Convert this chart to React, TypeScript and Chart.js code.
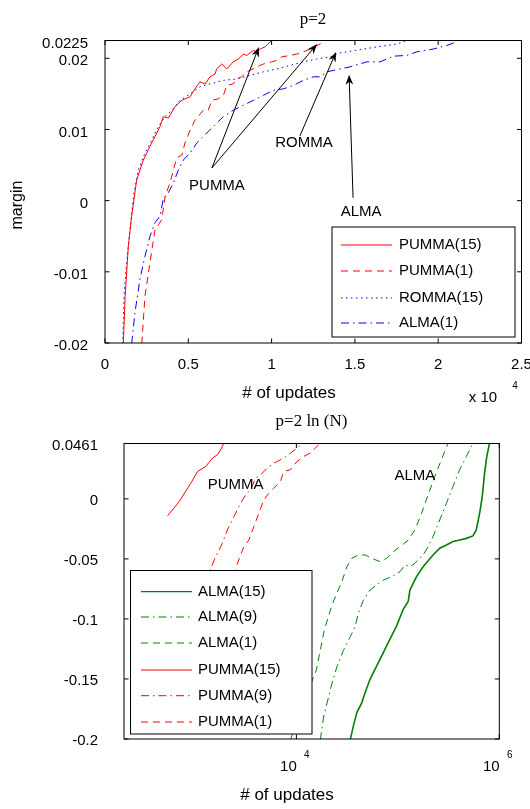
import React, { useEffect, useRef } from 'react';
import { Chart, registerables } from 'chart.js';

Chart.register(...registerables);

// ---------------- Top chart (p=2) ----------------
const topTitle = 'p=2';
const topXTicks = [0, 0.5, 1, 1.5, 2, 2.5];
const topXLabels = ['0', '0.5', '1', '1.5', '2', '2.5'];
const topYTicks = [0.0225, 0.02, 0.01, 0, -0.01, -0.02];
const topYLabels = ['0.0225', '0.02', '0.01', '0', '-0.01', '-0.02'];

const pumma15X = [0.110, 0.121, 0.140, 0.160, 0.190, 0.230, 0.280, 0.330, 0.350, 0.380, 0.420, 0.461, 0.511, 0.540, 0.570, 0.601, 0.630, 0.661, 0.670, 0.701, 0.731, 0.770, 0.801, 0.830, 0.851, 0.891, 0.910, 0.931, 0.960, 0.991, 1.006];
const pumma15Y = [-0.0201, -0.0134, -0.0064, -0.0022, 0.0029, 0.0057, 0.0081, 0.0104, 0.0118, 0.0116, 0.0132, 0.0141, 0.0146, 0.0157, 0.0167, 0.0164, 0.0174, 0.0178, 0.0185, 0.0192, 0.0185, 0.0195, 0.0199, 0.0206, 0.0204, 0.0211, 0.0209, 0.0213, 0.0216, 0.0223, 0.0226];

const pumma1X = [0.221, 0.240, 0.270, 0.300, 0.340, 0.361, 0.390, 0.430, 0.461, 0.480, 0.511, 0.540, 0.590, 0.620, 0.641, 0.680, 0.711, 0.731, 0.770, 0.791, 0.820, 0.851, 0.870, 0.910, 0.951, 1.001, 1.031, 1.061, 1.111, 1.152, 1.191, 1.231, 1.291, 1.311];
const pumma1Y = [-0.0201, -0.0134, -0.0087, -0.0041, -0.0027, 0.0006, 0.0025, 0.0060, 0.0064, 0.0081, 0.0099, 0.0113, 0.0127, 0.0127, 0.0141, 0.0143, 0.0148, 0.0162, 0.0164, 0.0171, 0.0174, 0.0181, 0.0183, 0.0188, 0.0192, 0.0195, 0.0197, 0.0202, 0.0204, 0.0206, 0.0209, 0.0213, 0.0220, 0.0224];

const romma15X = [0.106, 0.114, 0.130, 0.150, 0.171, 0.200, 0.240, 0.280, 0.320, 0.361, 0.401, 0.451, 0.511, 0.570, 0.630, 0.711, 0.791, 0.870, 0.951, 1.031, 1.111, 1.191, 1.271, 1.351, 1.401, 1.501, 1.632, 1.751, 1.801];
const romma15Y = [-0.0201, -0.0134, -0.0087, -0.0041, 0.0006, 0.0043, 0.0067, 0.0085, 0.0104, 0.0118, 0.0127, 0.0141, 0.0150, 0.0160, 0.0164, 0.0169, 0.0171, 0.0176, 0.0181, 0.0185, 0.0190, 0.0195, 0.0199, 0.0202, 0.0207, 0.0211, 0.0216, 0.0220, 0.0224];

const alma1X = [0.160, 0.180, 0.210, 0.240, 0.270, 0.300, 0.330, 0.350, 0.380, 0.411, 0.440, 0.470, 0.511, 0.551, 0.611, 0.670, 0.711, 0.770, 0.830, 0.891, 0.951, 1.010, 1.070, 1.131, 1.191, 1.250, 1.291, 1.331, 1.371, 1.471, 1.571, 1.651, 1.732, 1.811, 1.871, 1.971, 2.051, 2.112];
const alma1Y = [-0.0201, -0.0157, -0.0110, -0.0078, -0.0050, -0.0031, -0.0022, 0.0003, 0.0011, 0.0025, 0.0043, 0.0057, 0.0067, 0.0081, 0.0095, 0.0109, 0.0118, 0.0127, 0.0134, 0.0141, 0.0148, 0.0155, 0.0157, 0.0162, 0.0169, 0.0174, 0.0174, 0.0181, 0.0183, 0.0188, 0.0195, 0.0195, 0.0203, 0.0204, 0.0209, 0.0213, 0.0218, 0.0223];

// annotations (data coordinates)
const topLabels = [
  { text: 'PUMMA', x: 0.672, y: 0.0021 },
  { text: 'ROMMA', x: 1.194, y: 0.0081 },
  { text: 'ALMA', x: 1.537, y: -0.0016 },
];
const topArrows = [
  { x0: 0.642, y0: 0.0046, x1: 0.924, y1: 0.0216 },
  { x0: 0.642, y0: 0.0046, x1: 1.273, y1: 0.0220 },
  { x0: 1.170, y0: 0.0091, x1: 1.387, y1: 0.0209 },
  { x0: 1.489, y0: 0.0004, x1: 1.465, y1: 0.0177 },
];

// ---------------- Bottom chart (p=2 ln(N)) ----------------
const botTitle = 'p=2 ln (N)';
const botXTicks = [1e4, 1e6];
const botXExp = ['4', '6'];
const botYTicks = [0.0461, 0, -0.05, -0.1, -0.15, -0.2];
const botYLabels = ['0.0461', '0', '-0.05', '-0.1', '-0.15', '-0.2'];

const balma15X = [33880, 36480, 39450, 44160, 47530, 53210, 61940, 71940, 83560, 97280, 113000, 126500, 131500, 152800, 177400, 222300, 258800, 301300, 349900, 406400, 473200, 549500, 592900, 639700, 679200, 716100, 753400, 801700];
const balma15Y = [-0.201, -0.1891, -0.1780, -0.1697, -0.1614, -0.1503, -0.1391, -0.1280, -0.1169, -0.1058, -0.0920, -0.0855, -0.0760, -0.0648, -0.0565, -0.0467, -0.0411, -0.0384, -0.0356, -0.0342, -0.0329, -0.0309, -0.0259, -0.0120, 0.0019, 0.0214, 0.0353, 0.0465];

const balma9X = [17210, 18530, 20750, 22390, 25060, 29110, 33880, 37930, 40870, 45710, 53210, 61940, 71940, 86900, 105000, 117500, 131500, 147200, 177400, 198700, 222300, 258800, 301300, 349900, 406400, 473200, 549500];
const balma9Y = [-0.201, -0.1817, -0.1650, -0.1539, -0.1400, -0.1261, -0.1150, -0.1066, -0.0950, -0.0845, -0.0760, -0.0718, -0.0676, -0.0649, -0.0607, -0.0551, -0.0565, -0.0537, -0.0467, -0.0398, -0.0315, -0.0175, -0.0036, 0.0103, 0.0242, 0.0353, 0.0465];

const balma1X = [8730, 10940, 15710, 17210, 18820, 22390, 25060, 28060, 31470, 35230, 40870, 47530, 55340, 66680, 77620, 90160, 105000, 126500, 147200, 171400, 198700, 231200, 269100, 312600];
const balma1Y = [-0.201, -0.176, -0.1428, -0.1261, -0.1094, -0.0885, -0.0787, -0.0690, -0.0565, -0.0495, -0.0467, -0.0467, -0.0495, -0.0523, -0.0495, -0.0441, -0.0399, -0.0344, -0.0260, -0.0120, 0.0033, 0.0186, 0.0326, 0.0465];

const bpumma15X = [538, 700, 912, 1062, 1279, 1489, 1667, 1795, 1935];
const bpumma15Y = [-0.0142, -0.0023, 0.0131, 0.0228, 0.0270, 0.0340, 0.0367, 0.0409, 0.0465];

const bpumma9X = [1279, 1432, 1603, 1866, 2089, 2427, 2818, 3162, 3540, 3963, 4436, 5157, 5984, 7499, 8730, 10160, 11370];
const bpumma9Y = [-0.0843, -0.0578, -0.0482, -0.0370, -0.0259, -0.0148, -0.0036, 0.0033, 0.0075, 0.0172, 0.0200, 0.0256, 0.0297, 0.0339, 0.0381, 0.0423, 0.0465];

const bpumma1X = [2249, 2559, 2818, 3041, 3404, 3811, 4266, 4775, 5346, 5984, 6966, 7499, 8730, 10160, 11800, 13720, 15360, 17210];
const bpumma1Y = [-0.0843, -0.0565, -0.0467, -0.0398, -0.0342, -0.0231, -0.0119, -0.0008, 0.0047, 0.0089, 0.0145, 0.0228, 0.0242, 0.0311, 0.0353, 0.0381, 0.0423, 0.0465];

const botLabels = [
  { text: 'PUMMA', x: 2518, y: 0.0117 },
  { text: 'ALMA', x: 147200, y: 0.0195 },
];

// ---------------- helpers ----------------
const SANS = '"Liberation Sans", Arial, sans-serif';
const SERIF = '"Liberation Serif", "Times New Roman", serif';
const RED = 'rgb(255,0,0)';
const BLUE = 'rgb(0,0,255)';
const GREEN = 'rgb(0,128,0)';
const DASH = [7, 5];
const DASHDOT = [8, 4, 1.5, 4];
const DOT = [1.5, 3.5];

const pts = (xs: number[], ys: number[]) => xs.map((x, i) => ({ x, y: ys[i] }));
const pick = (vals: number[], labels: string[]) => (v: any) => {
  const i = vals.findIndex((t) => Math.abs(t - Number(v)) < 1e-9 * Math.max(1, Math.abs(t)));
  return i >= 0 ? labels[i] : '';
};

function ds(label: string, data: any[], color: string, dash: number[], width = 1) {
  return {
    label,
    data,
    borderColor: color,
    backgroundColor: color,
    borderWidth: width,
    borderDash: dash,
    pointRadius: 0,
    tension: 0,
    fill: false,
  };
}

type TextItem = { text: string; x: number; y: number; font: string; align?: CanvasTextAlign; rotate?: boolean };

function framePlugin(cfg: any) {
  return {
    id: 'frame_' + cfg.name,
    afterDraw(chart: any) {
      const { ctx, chartArea: a, scales } = chart;
      const xs = scales.x;
      const ys = scales.y;
      ctx.save();
      // box
      ctx.strokeStyle = '#000';
      ctx.lineWidth = 1;
      ctx.setLineDash([]);
      ctx.strokeRect(a.left, a.top, a.right - a.left, a.bottom - a.top);
      // inner ticks
      const tl = 4.5;
      ctx.beginPath();
      cfg.xTicks.forEach((v: number) => {
        const p = xs.getPixelForValue(v);
        ctx.moveTo(p, a.bottom);
        ctx.lineTo(p, a.bottom - tl);
        ctx.moveTo(p, a.top);
        ctx.lineTo(p, a.top + tl);
      });
      cfg.yTicks.forEach((v: number) => {
        const p = ys.getPixelForValue(v);
        ctx.moveTo(a.left, p);
        ctx.lineTo(a.left + tl, p);
        ctx.moveTo(a.right, p);
        ctx.lineTo(a.right - tl, p);
      });
      ctx.stroke();

      // arrows
      (cfg.arrows || []).forEach((ar: any) => {
        const x0 = xs.getPixelForValue(ar.x0);
        const y0 = ys.getPixelForValue(ar.y0);
        const x1 = xs.getPixelForValue(ar.x1);
        const y1 = ys.getPixelForValue(ar.y1);
        const ang = Math.atan2(y1 - y0, x1 - x0);
        const L = 10;
        const W = 3.8;
        ctx.strokeStyle = '#000';
        ctx.lineWidth = 1;
        ctx.beginPath();
        ctx.moveTo(x0, y0);
        ctx.lineTo(x1 - Math.cos(ang) * L * 0.7, y1 - Math.sin(ang) * L * 0.7);
        ctx.stroke();
        const bx = x1 - Math.cos(ang) * L;
        const by = y1 - Math.sin(ang) * L;
        const nx = -Math.sin(ang);
        const ny = Math.cos(ang);
        const mx = x1 - Math.cos(ang) * L * 0.7;
        const my = y1 - Math.sin(ang) * L * 0.7;
        ctx.fillStyle = '#000';
        ctx.beginPath();
        ctx.moveTo(x1, y1);
        ctx.lineTo(bx + nx * W, by + ny * W);
        ctx.lineTo(mx, my);
        ctx.lineTo(bx - nx * W, by - ny * W);
        ctx.closePath();
        ctx.fill();
      });

      // annotation labels (data coords)
      ctx.fillStyle = '#000';
      ctx.textBaseline = 'middle';
      ctx.textAlign = 'center';
      ctx.font = '15px ' + SANS;
      (cfg.labels || []).forEach((t: any) => {
        ctx.fillText(t.text, xs.getPixelForValue(t.x), ys.getPixelForValue(t.y));
      });

      // legend
      const Lg = cfg.legend;
      ctx.fillStyle = '#fff';
      ctx.fillRect(Lg.x0, Lg.y0, Lg.x1 - Lg.x0, Lg.y1 - Lg.y0);
      ctx.strokeStyle = '#000';
      ctx.lineWidth = 1;
      ctx.strokeRect(Lg.x0, Lg.y0, Lg.x1 - Lg.x0, Lg.y1 - Lg.y0);
      Lg.order.forEach((di: number, i: number) => {
        const d = chart.data.datasets[di];
        const y = Lg.rows[i];
        ctx.save();
        ctx.strokeStyle = d.borderColor;
        ctx.lineWidth = Math.min(d.borderWidth, 1.2);
        ctx.setLineDash(d.borderDash || []);
        ctx.beginPath();
        ctx.moveTo(Lg.sx0, y);
        ctx.lineTo(Lg.sx1, y);
        ctx.stroke();
        ctx.restore();
        ctx.fillStyle = '#000';
        ctx.textAlign = 'left';
        ctx.textBaseline = 'middle';
        ctx.font = '15px ' + SANS;
        ctx.fillText(d.label, Lg.tx, y);
      });

      // superscripts on tick labels
      (cfg.sup || []).forEach((s: any) => {
        ctx.fillStyle = '#000';
        ctx.textAlign = 'center';
        ctx.textBaseline = 'middle';
        ctx.font = '10px ' + SANS;
        ctx.fillText(s.text, xs.getPixelForValue(s.v) + s.dx, a.bottom + s.dy);
      });

      // free texts (pixel coords)
      (cfg.texts || []).forEach((t: TextItem) => {
        ctx.save();
        ctx.fillStyle = '#000';
        ctx.font = t.font;
        ctx.textAlign = t.align || 'center';
        ctx.textBaseline = 'middle';
        if (t.rotate) {
          ctx.translate(t.x, t.y);
          ctx.rotate(-Math.PI / 2);
          ctx.fillText(t.text, 0, 0);
        } else {
          ctx.fillText(t.text, t.x, t.y);
        }
        ctx.restore();
      });
      ctx.restore();
    },
  };
}

function topConfig(): any {
  return {
    type: 'line',
    data: {
      datasets: [
        ds('PUMMA(15)', pts(pumma15X, pumma15Y), RED, []),
        ds('PUMMA(1)', pts(pumma1X, pumma1Y), RED, DASH),
        ds('ROMMA(15)', pts(romma15X, romma15Y), BLUE, DOT),
        ds('ALMA(1)', pts(alma1X, alma1Y), BLUE, DASHDOT),
      ],
    },
    options: {
      responsive: false,
      animation: false,
      devicePixelRatio: 1,
      layout: { padding: { left: 0, top: 40.5, right: 8.5, bottom: 0 } },
      plugins: { legend: { display: false }, title: { display: false }, tooltip: { enabled: false } },
      scales: {
        x: {
          type: 'linear',
          min: 0,
          max: 2.5,
          grid: { display: false, drawTicks: false },
          border: { display: false },
          afterBuildTicks: (s: any) => { s.ticks = topXTicks.map((v) => ({ value: v })); },
          afterFit: (s: any) => { s.height = 62; s.paddingLeft = 0; s.paddingRight = 0; },
          ticks: {
            autoSkip: false, maxRotation: 0, padding: 13, color: '#000',
            font: { family: SANS, size: 15 },
            callback: pick(topXTicks, topXLabels),
          },
        },
        y: {
          type: 'linear',
          min: -0.02,
          max: 0.0225,
          grid: { display: false, drawTicks: false },
          border: { display: false },
          afterBuildTicks: (s: any) => { s.ticks = topYTicks.map((v) => ({ value: v })); },
          afterFit: (s: any) => { s.width = 105; s.paddingTop = 0; s.paddingBottom = 0; },
          ticks: {
            autoSkip: false, padding: 17, labelOffset: 3, color: '#000',
            font: { family: SANS, size: 15 },
            callback: pick(topYTicks, topYLabels),
          },
        },
      },
    },
    plugins: [
      framePlugin({
        name: 'top',
        xTicks: topXTicks,
        yTicks: topYTicks,
        arrows: topArrows,
        labels: topLabels,
        legend: { x0: 332, y0: 227, x1: 515, y1: 337, rows: [245, 271, 298, 323], order: [0, 1, 2, 3], sx0: 341, sx1: 392, tx: 399 },
        texts: [
          { text: topTitle, x: 313, y: 20, font: '17px ' + SERIF },
          { text: '# of updates', x: 289, y: 393, font: '17px ' + SANS },
          { text: 'x 10', x: 483, y: 398, font: '15px ' + SANS },
          { text: '4', x: 515, y: 386, font: '10px ' + SANS },
          { text: 'margin', x: 18, y: 205, font: '16px ' + SANS, rotate: true },
        ],
      }),
    ],
  };
}

function botConfig(): any {
  return {
    type: 'line',
    data: {
      datasets: [
        ds('ALMA(15)', pts(balma15X, balma15Y), GREEN, [], 1.6),
        ds('ALMA(9)', pts(balma9X, balma9Y), GREEN, DASHDOT),
        ds('ALMA(1)', pts(balma1X, balma1Y), GREEN, DASH),
        ds('PUMMA(15)', pts(bpumma15X, bpumma15Y), RED, []),
        ds('PUMMA(9)', pts(bpumma9X, bpumma9Y), RED, DASHDOT),
        ds('PUMMA(1)', pts(bpumma1X, bpumma1Y), RED, DASH),
      ],
    },
    options: {
      responsive: false,
      animation: false,
      devicePixelRatio: 1,
      layout: { padding: { left: 0, top: 38.5, right: 30.7, bottom: 0 } },
      plugins: { legend: { display: false }, title: { display: false }, tooltip: { enabled: false } },
      scales: {
        x: {
          type: 'logarithmic',
          min: 200,
          max: 1e6,
          grid: { display: false, drawTicks: false },
          border: { display: false },
          afterBuildTicks: (s: any) => { s.ticks = botXTicks.map((v) => ({ value: v })); },
          afterFit: (s: any) => { s.height = 70; s.paddingLeft = 0; s.paddingRight = 0; },
          ticks: {
            autoSkip: false, maxRotation: 0, padding: 19, labelOffset: -8, color: '#000',
            font: { family: SANS, size: 15 },
            callback: () => '10',
          },
        },
        y: {
          type: 'linear',
          min: -0.2,
          max: 0.0461,
          grid: { display: false, drawTicks: false },
          border: { display: false },
          afterBuildTicks: (s: any) => { s.ticks = botYTicks.map((v) => ({ value: v })); },
          afterFit: (s: any) => { s.width = 124; s.paddingTop = 0; s.paddingBottom = 0; },
          ticks: {
            autoSkip: false, padding: 26, labelOffset: 2, color: '#000',
            font: { family: SANS, size: 15 },
            callback: pick(botYTicks, botYLabels),
          },
        },
      },
    },
    plugins: [
      framePlugin({
        name: 'bot',
        xTicks: botXTicks,
        yTicks: botYTicks,
        labels: botLabels,
        legend: { x0: 130.5, y0: 165.5, x1: 312, y1: 329, rows: [186.7, 212, 238, 265, 290.7, 317], order: [0, 1, 2, 3, 4, 5], sx0: 141, sx1: 192, tx: 198 },
        sup: botXTicks.map((v, i) => ({ v, text: botXExp[i], dx: 10.5, dy: 16 })),
        texts: [
          { text: botTitle, x: 311.5, y: 17, font: '17px ' + SERIF },
          { text: '# of updates', x: 287, y: 390, font: '17px ' + SANS },
        ],
      }),
    ],
  };
}

function ChartBox({ make, top, height }: { make: () => any; top: number; height: number }) {
  const ref = useRef<HTMLCanvasElement>(null);
  useEffect(() => {
    const chart = new Chart(ref.current as HTMLCanvasElement, make());
    return () => chart.destroy();
  }, []);
  return (
    <div style={{ position: 'absolute', left: 0, top, width: 530, height }}>
      <canvas ref={ref} width={530} height={height} style={{ display: 'block', width: 530, height }} />
    </div>
  );
}

export default function App() {
  return (
    <div style={{ position: 'absolute', left: 0, top: 0, width: 530, height: 809, background: '#fff' }}>
      <ChartBox make={topConfig} top={0} height={405} />
      <ChartBox make={botConfig} top={405} height={404} />
    </div>
  );
}
